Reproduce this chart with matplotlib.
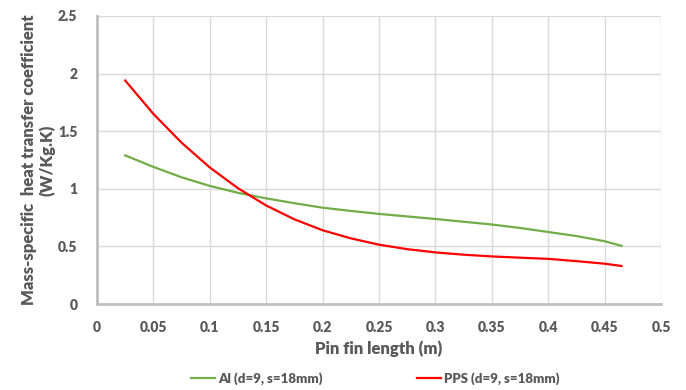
import matplotlib.pyplot as plt

# pin fin length (m)
length = [0.025, 0.05, 0.075, 0.1, 0.125, 0.15, 0.175, 0.2, 0.225, 0.25,
          0.275, 0.3, 0.325, 0.35, 0.375, 0.4, 0.425, 0.45, 0.465]
# mass-specific heat transfer coefficient (W/Kg.K)
al = [1.29, 1.19, 1.10, 1.025, 0.965, 0.917, 0.875, 0.836, 0.808, 0.782,
      0.76, 0.738, 0.714, 0.69, 0.66, 0.625, 0.59, 0.545, 0.505]
pps = [1.94, 1.65, 1.40, 1.185, 1.005, 0.855, 0.735, 0.64, 0.57, 0.515,
       0.476, 0.448, 0.428, 0.413, 0.402, 0.392, 0.372, 0.35, 0.33]

xticks = [0, 0.05, 0.1, 0.15, 0.2, 0.25, 0.3, 0.35, 0.4, 0.45, 0.5]
xticklabels = ['0', '0.05', '0.1', '0.15', '0.2', '0.25', '0.3', '0.35', '0.4', '0.45', '0.5']
yticks = [0, 0.5, 1, 1.5, 2, 2.5]
yticklabels = ['0', '0.5', '1', '1.5', '2', '2.5']

txt = '#595959'
plt.rcParams['font.family'] = ['Lato', 'DejaVu Sans']

fig = plt.figure(figsize=(6.86, 3.9), dpi=100)
ax = fig.add_axes([0.1414, 0.2205, 0.8222, 0.7385])

ax.plot(length, al, color='#70ad47', lw=1.6, label='Al (d=9, s=18mm)')
ax.plot(length, pps, color='#ff0000', lw=1.6, label='PPS (d=9, s=18mm)')

ax.set_xlim(0, 0.5)
ax.set_ylim(0, 2.5)
ax.set_xticks(xticks)
ax.set_xticklabels(xticklabels)
ax.set_yticks(yticks)
ax.set_yticklabels(yticklabels)
ax.tick_params(length=0, labelsize=10, labelcolor=txt)
ax.tick_params(axis='x', pad=12)
ax.tick_params(axis='y', pad=14)
for lab in ax.get_xticklabels() + ax.get_yticklabels():
    lab.set_fontweight('heavy')

ax.grid(True, color='#d9d9d9', lw=1)
ax.set_axisbelow(True)
for s in ['top', 'right']:
    ax.spines[s].set_visible(False)
for s in ['left', 'bottom']:
    ax.spines[s].set_color('#bfbfbf')
    ax.spines[s].set_linewidth(2)

ax.set_xlabel('Pin fin length (m)', fontsize=12, fontweight='heavy', color=txt, labelpad=5)
ax.set_ylabel('Mass-specific  heat transfer coefficient\n(W/Kg.K)', fontsize=12,
              fontweight='heavy', color=txt, labelpad=2, linespacing=1.1)

leg = fig.legend(loc='lower center', bbox_to_anchor=(0.547, -0.018), ncol=2, frameon=False,
                 fontsize=9.5, handlelength=1.8, handletextpad=0.2, columnspacing=7.2)
for t in leg.get_texts():
    t.set_color(txt)
    t.set_fontweight('heavy')

fig.savefig('out.png', dpi=100)
